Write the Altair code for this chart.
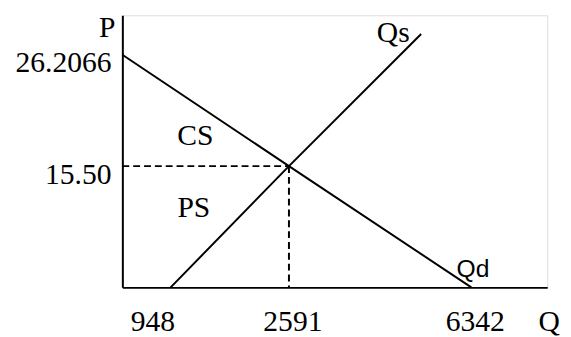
import altair as alt
import pandas as pd

# ---- values ----
q_ticks = [948, 2591, 6342]
p_ticks = [15.50, 26.2066]
p_tick_text = ["15.50", "26.2066"]

demand_q = [0, 2591, 6342]
demand_p = [26.2066, 15.50, 0]

supply_q = [948, 2591, 5310]
supply_p = [0, 15.50, 28.2]

eq_q = 2591
eq_p = 15.50

q_max = 7900
p_max = 30.0

area_labels = ["CS", "PS"]
area_q = [1290, 1270]
area_p = [17.5, 8.95]

SERIF = "Liberation Serif"
SANS = "Liberation Sans"
FS = 30

xs = alt.Scale(domain=[0, 948, 2591, 6342, q_max], range=[0, 49, 169, 354, 431], nice=False, zero=False)
ys = alt.Scale(domain=[0, 15.50, 26.2066, p_max], range=[276, 153, 40, 0], nice=False, zero=False)

ax = alt.Axis(labels=False, ticks=False, grid=False, title=None, domainColor="black", domainWidth=2)

demand = pd.DataFrame({"q": demand_q, "p": demand_p})
supply = pd.DataFrame({"q": supply_q, "p": supply_p})

X = lambda: alt.X("q:Q", scale=xs, axis=ax)
Y = lambda: alt.Y("p:Q", scale=ys, axis=ax)

d_line = alt.Chart(demand).mark_line(color="black", strokeWidth=2).encode(x=X(), y=Y())
s_line = alt.Chart(supply).mark_line(color="black", strokeWidth=2).encode(x=X(), y=Y())

eq = pd.DataFrame({"q0": [0], "q": [eq_q], "p": [eq_p], "p0": [0]})
h_dash = alt.Chart(eq).mark_rule(color="black", strokeWidth=2, strokeDash=[7, 4]).encode(
    x=alt.X("q0:Q", scale=xs), x2="q:Q", y=alt.Y("p:Q", scale=ys))
v_dash = alt.Chart(eq).mark_rule(color="black", strokeWidth=2, strokeDash=[7, 4]).encode(
    x=alt.X("q:Q", scale=xs), y=alt.Y("p:Q", scale=ys), y2="p0:Q")

pl = pd.DataFrame({"q": [0, 0], "p": p_ticks, "t": p_tick_text})
p_labels = alt.Chart(pl).mark_text(font=SERIF, fontSize=FS, align="right", baseline="alphabetic", dx=-11, dy=18).encode(
    x=alt.X("q:Q", scale=xs), y=alt.Y("p:Q", scale=ys), text="t:N")

ql1 = pd.DataFrame({"q": q_ticks[:1], "p": [0]})
ql2 = pd.DataFrame({"q": q_ticks[1:], "p": [0, 0]})
q_lab1 = alt.Chart(ql1).mark_text(font=SERIF, fontSize=FS, align="center", baseline="alphabetic", dx=-18, dy=44).encode(
    x=alt.X("q:Q", scale=xs), y=alt.Y("p:Q", scale=ys), text="q:Q")
q_lab2 = alt.Chart(ql2).mark_text(font=SERIF, fontSize=FS, align="center", baseline="alphabetic", dx=4, dy=44).encode(
    x=alt.X("q:Q", scale=xs), y=alt.Y("p:Q", scale=ys), text="q:Q")

p_title = alt.Chart(pd.DataFrame({"q": [0], "p": [p_max], "t": ["P"]})).mark_text(
    font=SERIF, fontSize=FS, align="right", baseline="alphabetic", dx=-7, dy=22).encode(
    x=alt.X("q:Q", scale=xs), y=alt.Y("p:Q", scale=ys), text="t:N")
q_title = alt.Chart(pd.DataFrame({"q": [q_max], "p": [0], "t": ["Q"]})).mark_text(
    font=SERIF, fontSize=FS, align="center", baseline="alphabetic", dx=2, dy=44).encode(
    x=alt.X("q:Q", scale=xs), y=alt.Y("p:Q", scale=ys), text="t:N")

qs_lab = alt.Chart(pd.DataFrame({"q": [supply_q[-1]], "p": [supply_p[-1]], "t": ["Qs"]})).mark_text(
    font=SERIF, fontSize=FS, align="left", baseline="alphabetic", dx=-45, dy=8).encode(
    x=alt.X("q:Q", scale=xs), y=alt.Y("p:Q", scale=ys), text="t:N")
qd_lab = alt.Chart(pd.DataFrame({"q": [demand_q[-1]], "p": [demand_p[-1]], "t": ["Qd"]})).mark_text(
    font=SANS, fontSize=25, align="left", baseline="alphabetic", dx=-15, dy=-11).encode(
    x=alt.X("q:Q", scale=xs), y=alt.Y("p:Q", scale=ys), text="t:N")

areas = alt.Chart(pd.DataFrame({"q": area_q, "p": area_p, "t": area_labels})).mark_text(
    font=SERIF, fontSize=FS, align="center", baseline="alphabetic").encode(
    x=alt.X("q:Q", scale=xs), y=alt.Y("p:Q", scale=ys), text="t:N")

chart = alt.layer(d_line, s_line, h_dash, v_dash, p_labels, q_lab1, q_lab2, p_title, q_title,
                  qs_lab, qd_lab, areas).properties(
    width=431, height=276,
    autosize=alt.AutoSizeParams(type="none"),
    padding={"left": 116, "top": 5, "right": 16, "bottom": 52},
).configure_view(stroke=None).configure(background="white")

chart.save("out.html", embed_options={"renderer": "svg", "actions": False})
